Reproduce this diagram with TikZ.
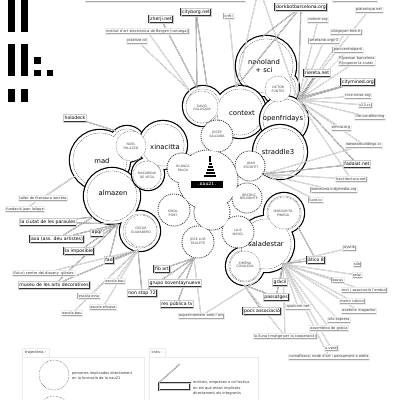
\documentclass[tikz,border=0pt]{standalone}
\usepackage{fontspec}
\setmainfont{DejaVu Sans}
\usetikzlibrary{positioning}
\pgfdeclarelayer{front}
\pgfsetlayers{main,front}
\tikzset{
    sitebox/.style = {rectangle, draw=black!35, double=black!8, double distance=0.3pt, line width=0.3pt,
                        fill=white, inner sep=0.9pt, minimum height=5.5pt, font=\fontsize{3.6}{4.2}\selectfont, text=black!80},
    groupbox/.style = {rectangle, draw=black!80, double=black!20, double distance=0.5pt, line width=0.45pt,
                        fill=white, inner sep=1.1pt, minimum height=7.5pt, font=\fontsize{4.6}{5}\selectfont},
    link/.style = {draw=black!40, double=white, double distance=0.45pt, line width=0.25pt},
    linkb/.style = {link, draw=black!70},
    person/.style = {align=center, inner sep=0pt, font=\fontsize{3.2}{3.7}\selectfont, text=black!70},
    pring/.style = {draw=black!75, densely dotted, line width=0.5pt},
    collective/.style = {align=center, inner sep=0pt, font=\fontsize{6.8}{8}\selectfont},
    rim/.style = {draw=black, line width=2.4pt},
    rimin/.style = {draw=black!70, dash pattern=on 1.2pt off 0.8pt, line width=0.5pt},
    nauring/.style = {draw=black!75, densely dotted, line width=1pt},
    note/.style = {align=left, inner sep=0pt, font=\fontsize{3.6}{5.5}\selectfont, text=black!80}
}
% one collective: union of circles, thick rim and dashed inner rim
\newcommand{\groupcloud}[1]{%
    \foreach \cx/\cy/\rr in {#1} \draw[rim] (\cx,\cy) circle[radius=\rr pt];
    \foreach \cx/\cy/\rr in {#1} \fill[white] (\cx,\cy) circle[radius=\rr pt];
    \foreach \cx/\cy/\rr in {#1} \draw[rimin] (\cx,\cy) circle[radius=\rr pt-3pt];
    \foreach \cx/\cy/\rr in {#1} \fill[white] (\cx,\cy) circle[radius=\rr pt-3.3pt];
}
\begin{document}
\begin{tikzpicture}[x=1pt, y=-1pt]
    \useasboundingbox (0,0) rectangle (400,400);
    \clip (0,0) rectangle (400,400);

    % logo bars
    \fill (8,0) rectangle (15,32);
    \fill (21,0) rectangle (28,32);
    \fill (8,44) rectangle (15,76);
    \fill (21,44) rectangle (28,76);
    \fill (34,57) rectangle (41,64);
    \fill (34,70) rectangle (41,76);
    \fill (47,70) rectangle (53,76);
    \fill (8,89) rectangle (15,102);
    \fill (21,89) rectangle (28,102);

    % collectives
    \groupcloud{100/160/30, 127/144/18}
    \groupcloud{112/196/28, 140/231/20}
    \groupcloud{163/145/24, 148/174/16}
    \groupcloud{266/66/30, 281/88/18}
    \groupcloud{240/112/26, 203/106/20}
    \groupcloud{284/120/24}
    \groupcloud{280/152/27}
    \groupcloud{266/244/28, 284/213/20, 245/266/19}

    % nau21 cloud
    \foreach \cx/\cy/\rr in {208/180/30, 212/212/18, 217/136/16, 182/168/15, 250/166/15,
                             247/198/15, 174/210/16, 198/242/16, 238/232/16}
        \draw[nauring] (\cx,\cy) circle[radius=\rr pt];
    \foreach \cx/\cy/\rr in {208/180/30, 212/212/18, 217/136/16, 182/168/15, 250/166/15,
                             247/198/15, 174/210/16, 198/242/16, 238/232/16}
        \fill[white] (\cx,\cy) circle[radius=\rr pt-0.6pt];

    % persons outside the cloud
    \foreach \cx/\cy/\rr in {202/107/16, 278/89/13, 131/146/15, 147/175/14, 141/231/16, 284/213/16, 245/266/15}
        \draw[pring, fill=white] (\cx,\cy) circle[radius=\rr pt];

    \node[person] (david) at (202,108) {DAVID\\GALLIGANI};
    \node[person] (josep) at (217,134) {JOSEP\\SALDAÑA};
    \node[person] (victor) at (278,89) {VICTOR\\PUNTES};
    \node[person] (noel) at (131,146) {NOEL\\PALAZZO};
    \node[person] (blanca) at (183,168) {BLANCA\\PALOU};
    \node[person] (macarena) at (147,175) {MACARENA\\DE VEGA};
    \node[person] (joan) at (251,165) {JOAN\\ESCOFET};
    \node[person] (beatriz) at (249,197) {BEATRIZ\\BELMONTE};
    \node[person] (oriol) at (173,213) {ORIOL\\PONT};
    \node[person] (oscar) at (141,230) {OSCAR\\GUAYABERO};
    \node[person] (joseluis) at (198,241) {JOSE LUIS\\PAULETE};
    \node[person] (lluc) at (238,232) {LLUC\\MAYOL};
    \node[person] (margarita) at (283,213) {MARGARITA\\PINEDA};
    \node[person] (ximena) at (245,265) {XIMENA\\COVALEDA};

    \node[collective] (nano) at (264,66) {nanoland\\+ sci};
    \node[collective] (context) at (242,113) {context};
    \node[collective] (openf) at (283,119) {openfridays};
    \node[collective] (straddle) at (278,152) {straddle3};
    \node[collective] (mad) at (102,161) {mad};
    \node[collective] (xina) at (165,147) {xinacitta};
    \node[collective] (almazen) at (113,193) {almazen};
    \node[collective] (sala) at (266,244) {saladestar};

    % nau21 tower and name
    \fill (209.4,156) rectangle (210.6,162);
    \foreach \w/\yy in {1.5/162.5, 2.5/165.5, 3.5/168.5, 4.5/171.5, 6/174.5}
        \fill (210-\w,\yy) rectangle (210+\w,\yy+2);
    \node[fill=black, text=white, inner sep=0.8pt, minimum width=32pt, minimum height=7pt,
          font=\ttfamily\bfseries\fontsize{5.5}{6}\selectfont] (nau) at (207,184) {.nau21.};

    % hubs on the clouds
    \coordinate (hN) at (298,100);
    \coordinate (hN2) at (302,97);
    \coordinate (hNt) at (262,37);
    \coordinate (hT) at (197,88);
    \coordinate (hT2) at (190,91);
    \coordinate (hT3) at (207,86);
    \coordinate (hC) at (236,87);
    \coordinate (hM) at (116,131);
    \coordinate (hML) at (75,176);
    \coordinate (hA) at (118,224);
    \coordinate (hA2) at (93,217);
    \coordinate (hO) at (138,250);
    \coordinate (hJ) at (194,258);
    \coordinate (hS) at (264,174);
    \coordinate (hSa) at (283,264);
    \coordinate (hMP) at (298,227);
    \coordinate (hXi) at (244,285);
    \coordinate (hSL) at (258,280);
    \coordinate (topa) at (257,-4);
    \coordinate (topb) at (262,-4);

    % sites and groups
    \begin{pgfonlayer}{front}
    \node[sitebox, minimum width=160pt, minimum height=30pt, anchor=south west] (head) at (85,2) {};
    \node[sitebox, minimum width=45pt, minimum height=8pt, anchor=south west] (headr) at (332,2) {};
    \node[sitebox] (inst) at (147,31) {institut d'art electrònica de Bergen (noruega)};
    \node[sitebox] (pixel) at (137,41) {pixelive cd};
    \node[sitebox] (cnfi) at (229,16) {cnfi-i};
    \node[groupbox] (zherji) at (161,19) {zherji.net};
    \node[groupbox] (cityb) at (196,12) {cityborg.net};
    \node[groupbox] (dork) at (301,7) {dorkbotbarcelona.org};
    \node[sitebox] (plat) at (369,10) {platonique.net};
    \node[sitebox] (notor) at (318,20) {notorrr.org};
    \node[sitebox] (vile) at (346,32) {vilegoyon.free.fr};
    \node[sitebox] (artef) at (324,41) {artefacte.org/r3};
    \node[sitebox] (parc) at (348,50) {parccentralpark};
    \node[sitebox, align=left] (rpens) at (357,61) {R]pensar barcelona\\R]cuperar la ciutat};
    \node[groupbox] (riere) at (317,73) {riereta.net};
    \node[groupbox] (citym) at (358,82) {citymined.org};
    \node[sitebox] (nice) at (358,96) {nice-noise.org};
    \node[sitebox] (v23) at (365,105) {v23.cc};
    \node[sitebox] (life) at (370,117) {life-conditioning};
    \node[sitebox] (omni) at (341,128) {omnia.org};
    \node[sitebox] (wewe) at (364,145) {wewearbuildings.cc};
    \node[groupbox] (fadai) at (357,164) {fadaiat.net};
    \node[sitebox] (hack) at (351,179) {hackitectura.net};
    \node[sitebox] (indy) at (334,190) {barcelona.indymedia.org};
    \node[sitebox] (luve) at (316,200) {luve.cc};
    \node[sitebox] (joys) at (349,248) {joystik};
    \node[groupbox] (atico) at (316,260) {àtico 8};
    \node[sitebox] (silo) at (357,264) {silo};
    \node[sitebox] (selai) at (357,275) {selai};
    \node[sitebox] (bacus) at (338,280) {bacus};
    \node[sitebox] (mvt) at (364,290) {mvt / associació l'embut};
    \node[sitebox] (metro) at (352,301) {metro cúbico};
    \node[sitebox] (acet) at (359,311) {acetone magazine};
    \node[groupbox] (graci) at (280,282) {gràcil};
    \node[groupbox] (passa) at (276,297) {passatges};
    \node[sitebox] (quot) at (298,307) {quotcom.net};
    \node[groupbox] (pocs) at (262,311) {pocs associació};
    \node[sitebox] (silex) at (339,320) {silo express};
    \node[sitebox] (assem) at (329,328) {assemblea de gràcia};
    \node[sitebox] (lluna) at (285,336) {la lluna (imatge per la cooperació)};
    \node[sitebox] (uverd) at (331,348) {u-verd};
    \node[sitebox] (coma) at (329,357) {comaflosca, node d'art i pensament a alella};
    \node[sitebox] (exper) at (201,316) {experimentem amb l'art};
    \node[groupbox] (fib) at (162,269) {fib art};
    \node[groupbox] (grupo) at (175,283) {grupo noventaynueve};
    \node[groupbox] (nonst) at (142,293) {non stop 72};
    \node[groupbox] (respu) at (177,304) {res pública tv};
    \node[groupbox] (holo) at (75,118) {holodeck};
    \node[sitebox] (taller) at (43,198) {taller de literatura secreta};
    \node[sitebox] (fund) at (25,209) {fundació joan lalique};
    \node[groupbox] (ciutat) at (48,222) {la ciutat de les paraules};
    \node[groupbox] (apqr) at (97,233) {apqr};
    \node[groupbox] (axa) at (57,239) {axa (ass. deu artistes)};
    \node[groupbox] (impos) at (79,251) {la imposible};
    \node[groupbox] (fad) at (109,260) {fad};
    \node[sitebox] (futur) at (44,273) {(futur) centre del disseny -glòries-};
    \node[sitebox] (baub) at (115,281) {escola bau};
    \node[groupbox] (museu) at (54,285) {museu de les arts decoratives};
    \node[sitebox] (eina) at (89,296) {escola eina};
    \node[sitebox] (elis) at (103,307) {escola elisava};
    \node[sitebox] (bau) at (72,313) {escola bau};
    \end{pgfonlayer}

    % links
    \draw [link] (topa) -- (hC);
    \draw [link] (topb) -- (hN);
    \draw [link] (inst) -- (hT2);
    \draw [link] (pixel) -- (hT2);
    \draw [link] (cnfi) -- (hC);
    \draw [linkb] (zherji) -- (hT);
    \draw [linkb] (cityb) -- (hT);
    \draw [linkb] (cityb) -- (hT3);
    \draw [linkb] (dork) -- (hC);
    \draw [linkb] (dork) -- (hNt);
    \draw [linkb] (dork) -- (hN);
    \draw [link] (plat) -- (hN);
    \draw [link] (notor) -- (hN);
    \draw [link] (vile) -- (hN);
    \draw [link] (artef) -- (hN);
    \draw [link] (parc) -- (hN);
    \draw [link] (rpens) -- (hN);
    \draw [linkb] (riere) -- (hN);
    \draw [linkb] (riere) -- (hN2);
    \draw [linkb] (citym) -- (hN);
    \draw [linkb] (citym) -- (hN2);
    \draw [link] (nice) -- (hN);
    \draw [link] (v23) -- (hN);
    \draw [link] (life) -- (hN);
    \draw [link] (omni) -- (hN);
    \draw [link] (wewe) -- (hN);
    \draw [link] (wewe) -- (hS);
    \draw [linkb] (fadai) -- (hN);
    \draw [linkb] (fadai) -- (hS);
    \draw [link] (hack) -- (hN);
    \draw [link] (hack) -- (hS);
    \draw [link] (indy) -- (hS);
    \draw [link] (luve) -- (hS);
    \draw [link] (joys) -- (hSa);
    \draw [linkb] (atico) -- (hSa);
    \draw [linkb] (atico) -- (hMP);
    \draw [link] (silo) -- (hSa);
    \draw [link] (selai) -- (hSa);
    \draw [link] (bacus) -- (hSa);
    \draw [link] (mvt) -- (hSa);
    \draw [link] (metro) -- (hSa);
    \draw [link] (acet) -- (hSa);
    \draw [linkb] (graci) -- (hSa);
    \draw [linkb] (passa) -- (hSa);
    \draw [linkb] (passa) -- (hXi);
    \draw [link] (quot) -- (hSa);
    \draw [linkb] (pocs) -- (hXi);
    \draw [link] (silex) -- (hSa);
    \draw [link] (assem) -- (hSa);
    \draw [link] (lluna) -- (hSa);
    \draw [link] (lluna) -- (hXi);
    \draw [link] (uverd) -- (hSa);
    \draw [link] (coma) -- (hSa);
    \draw [link] (exper) -- (hJ);
    \draw [link] (exper) -- (hSL);
    \draw [linkb] (fib) -- (hJ);
    \draw [linkb] (grupo) -- (hJ);
    \draw [linkb] (nonst) -- (hJ);
    \draw [linkb] (nonst) -- (hO);
    \draw [linkb] (respu) -- (hJ);
    \draw [linkb] (holo) -- (hM);
    \draw [link] (taller) -- (hML);
    \draw [link] (fund) -- (hML);
    \draw [linkb] (ciutat) -- (hA);
    \draw [linkb] (ciutat) -- (hA2);
    \draw [linkb] (apqr) -- (hA);
    \draw [linkb] (axa) -- (hA);
    \draw [linkb] (axa) -- (hA2);
    \draw [linkb] (impos) -- (hA);
    \draw [linkb] (fad) -- (hA);
    \draw [linkb] (fad) -- (hO);
    \draw [link] (futur) -- (hO);
    \draw [link] (baub) -- (hO);
    \draw [linkb] (museu) -- (hO);
    \draw [linkb] (museu) -- (hA);
    \draw [link] (eina) -- (hO);
    \draw [link] (elis) -- (hO);
    \draw [link] (bau) -- (hO);

    % legend
    \node[sitebox, minimum width=27pt, minimum height=9pt] (tabA) at (35.5,352.5) {trajectòria :};
    \node[sitebox, minimum width=122pt, minimum height=60pt, anchor=north west] (legA) at (22,357) {};
    \draw[pring] (54,375) circle[radius=15pt];
    \draw[pring] (54,411) circle[radius=15pt];
    \node[note, anchor=west] (noteA) at (72,375.5) {persones implicades directament\\en la formació de la nau21};
    \node[sitebox, minimum width=16pt, minimum height=9pt] (tabB) at (157,352.5) {links :};
    \node[sitebox, minimum width=109pt, minimum height=60pt, anchor=north west] (legB) at (149,357) {};
    \node[groupbox, minimum width=31pt, minimum height=7pt] (legbox) at (174.5,386.5) {};
    \coordinate (legtip) at (180,364);
    \draw [linkb] (legbox.north west) -- (legtip);
    \node[note, anchor=north west] (noteB) at (193,381) {entitats, empreses o col·lectius\\en els que estan implicats\\directament els integrants};
\end{tikzpicture}
\end{document}
